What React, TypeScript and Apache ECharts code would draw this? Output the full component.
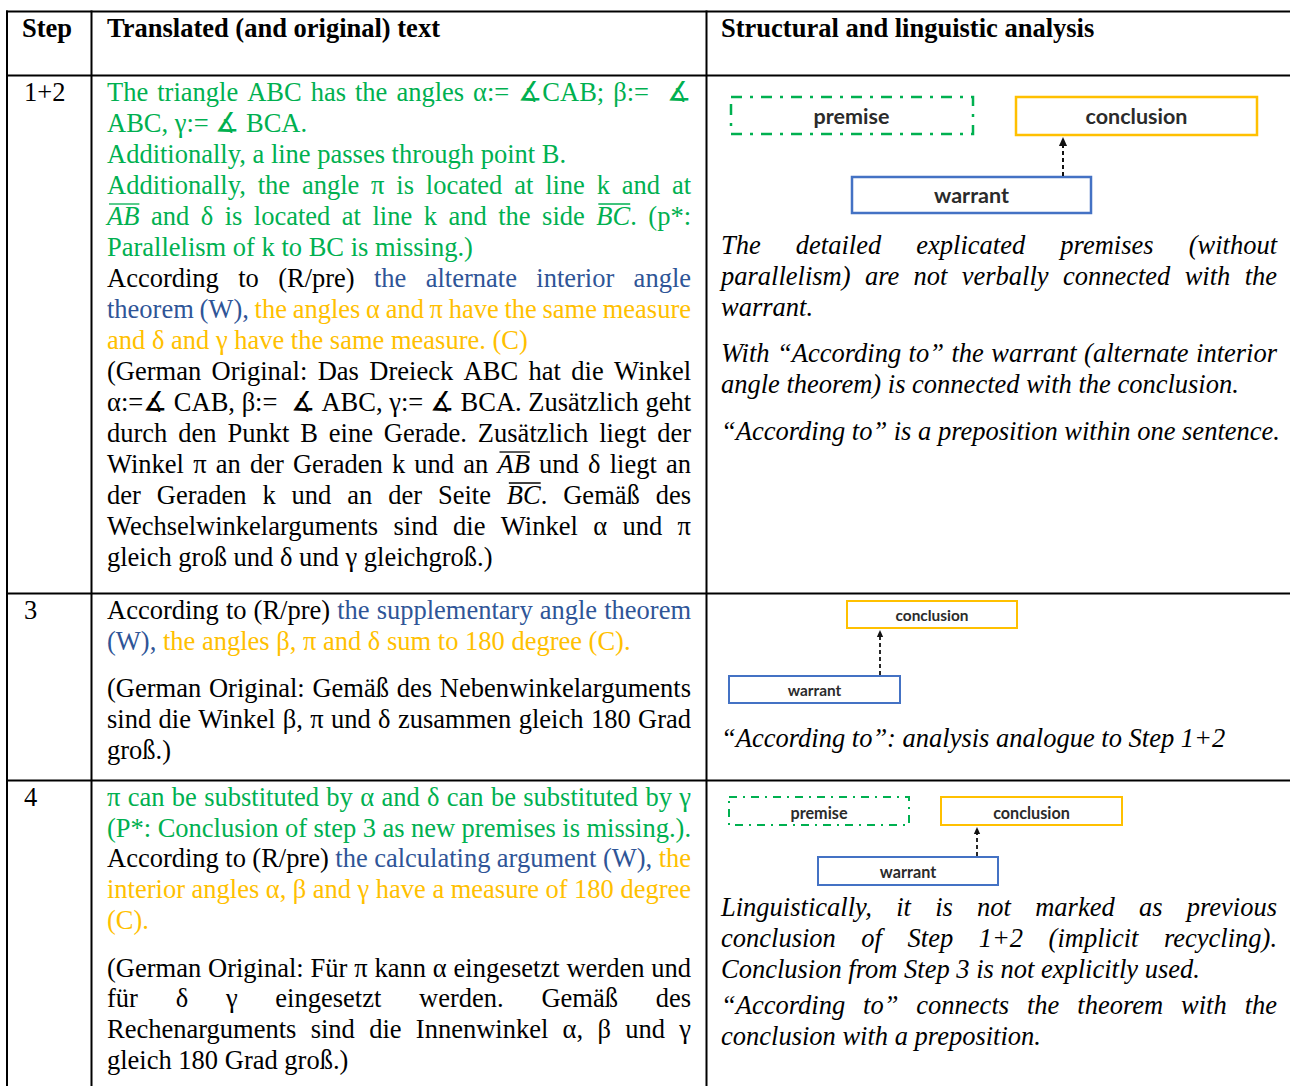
import React, { useEffect, useRef } from "react";
import * as echarts from "echarts";

type Seg = [string, string];
type Line = { j: boolean; s: Seg[] };
const L = (j: number, ...s: Seg[]): Line => ({ j: !!j, s });

// ---------- data ----------
const headers = ["Step", "Translated (and original) text", "Structural and linguistic analysis"];
const stepLabels = ["1+2", "3", "4"];

const step12Text: Line[][] = [
  [
    L(1, ["g", "The triangle ABC has the angles α:= ∡CAB; β:=  ∡"]),
    L(0, ["g", "ABC, γ:= ∡ BCA."]),
    L(0, ["g", "Additionally, a line passes through point B."]),
    L(1, ["g", "Additionally, the angle π is located at line k and at"]),
    L(1, ["go", "AB"], ["g", " and δ is located at line k and the side "], ["go", "BC"], ["g", ". (p*:"]),
    L(0, ["g", "Parallelism of k to BC is missing.)"]),
    L(1, ["k", "According to (R/pre) "], ["b", "the alternate interior angle"]),
    L(1, ["b", "theorem (W), "], ["y", "the angles α and π have the same measure"]),
    L(0, ["y", "and δ and γ have the same measure. (C)"]),
    L(1, ["k", "(German Original: Das Dreieck ABC hat die Winkel"]),
    L(1, ["k", "α:=∡ CAB, β:=  ∡ ABC, γ:= ∡ BCA. Zusätzlich geht"]),
    L(1, ["k", "durch den Punkt B eine Gerade. Zusätzlich liegt der"]),
    L(1, ["k", "Winkel π an der Geraden k und an "], ["ko", "AB"], ["k", " und δ liegt an"]),
    L(1, ["k", "der Geraden k und an der Seite "], ["ko", "BC"], ["k", ". Gemäß des"]),
    L(1, ["k", "Wechselwinkelarguments sind die Winkel α und π"]),
    L(0, ["k", "gleich groß und δ und γ gleichgroß.)"]),
  ],
];

const step3Text: Line[][] = [
  [
    L(1, ["k", "According to (R/pre) "], ["b", "the supplementary angle theorem"]),
    L(0, ["b", "(W), "], ["y", "the angles β, π and δ sum to 180 degree (C)."]),
  ],
  [
    L(1, ["k", "(German Original: Gemäß des Nebenwinkelarguments"]),
    L(1, ["k", "sind die Winkel β, π und δ zusammen gleich 180 Grad"]),
    L(0, ["k", "groß.)"]),
  ],
];

const step4Text: Line[][] = [
  [
    L(1, ["g", "π can be substituted by α and δ can be substituted by γ"]),
    L(1, ["g", "(P*: Conclusion of step 3 as new premises is missing.)."]),
    L(1, ["k", "According to (R/pre) "], ["b", "the calculating argument (W), "], ["y", "the"]),
    L(1, ["y", "interior angles α, β and γ have a measure of 180 degree"]),
    L(0, ["y", "(C)."]),
  ],
  [
    L(1, ["k", "(German Original: Für π kann α eingesetzt werden und"]),
    L(1, ["k", "für δ γ eingesetzt werden. Gemäß des"]),
    L(1, ["k", "Rechenarguments sind die Innenwinkel α, β und γ"]),
    L(0, ["k", "gleich 180 Grad groß.)"]),
  ],
];

const step12Analysis: Line[][] = [
  [
    L(1, ["ki", "The detailed explicated premises (without"]),
    L(1, ["ki", "parallelism) are not verbally connected with the"]),
    L(0, ["ki", "warrant."]),
  ],
  [
    L(1, ["ki", "With “According to” the warrant (alternate interior"]),
    L(0, ["ki", "angle theorem) is connected with the conclusion."]),
  ],
  [L(0, ["ki", "“According to” is a preposition within one sentence."])],
];

const step3Analysis: Line[][] = [[L(0, ["ki", "“According to”: analysis analogue to Step 1+2"])]];

const step4Analysis: Line[][] = [
  [
    L(1, ["ki", "Linguistically, it is not marked as previous"]),
    L(1, ["ki", "conclusion of Step 1+2 (implicit recycling)."]),
    L(0, ["ki", "Conclusion from Step 3 is not explicitly used."]),
  ],
  [
    L(1, ["ki", "“According to” connects the theorem with the"]),
    L(0, ["ki", "conclusion with a preposition."]),
  ],
];

const boxLabels = { premise: "premise", conclusion: "conclusion", warrant: "warrant" };

// ---------- styling ----------
const COLOR: Record<string, string> = { k: "#000000", g: "#00B050", b: "#2F5597", y: "#FFC000" };
const SERIF = '"Liberation Serif", "Times New Roman", "DejaVu Serif", serif';
const SANS = 'Lato, "Open Sans", sans-serif';
const FS = 26.5;

let ctx: CanvasRenderingContext2D | null = null;
function measure(text: string, style: string, weight: string, size: number, family: string) {
  if (!ctx) ctx = document.createElement("canvas").getContext("2d");
  ctx!.font = `${style} ${weight} ${size}px ${family}`;
  return ctx!.measureText(text).width;
}

function layoutLine(line: Line, x0: number, x1: number, y: number, els: any[]) {
  type Piece = { t: string; key: string };
  const words: { pieces: Piece[]; before: number }[] = [];
  let cur: { pieces: Piece[]; before: number } | null = null;
  let pending = 0;
  for (const [key, text] of line.s) {
    for (const part of text.split(/( +)/)) {
      if (!part) continue;
      if (part.trim() === "") {
        if (cur) { words.push(cur); cur = null; }
        pending += part.length;
      } else {
        if (!cur) { cur = { pieces: [], before: words.length ? pending : 0 }; pending = 0; }
        cur.pieces.push({ t: part, key });
      }
    }
  }
  if (cur) words.push(cur);
  const isItalic = (k: string) => k.includes("i") || k.includes("o");
  const baseItalic = line.s.every(([k]) => isItalic(k));
  const spaceW = measure(" ", baseItalic ? "italic" : "normal", "normal", FS, SERIF);
  let natural = 0;
  let spaces = 0;
  const widths = words.map((w) => {
    spaces += w.before;
    return w.pieces.map((p) => {
      const wd = measure(p.t, isItalic(p.key) ? "italic" : "normal", "normal", FS, SERIF);
      natural += wd;
      return wd;
    });
  });
  natural += spaces * spaceW;
  const gapW = line.j && spaces > 0 ? (x1 - x0 - natural) / spaces + spaceW : spaceW;
  let x = x0;
  words.forEach((w, wi) => {
    x += w.before * gapW;
    w.pieces.forEach((p, pi) => {
      const wd = widths[wi][pi];
      const fill = COLOR[p.key[0]];
      els.push({
        type: "text",
        x,
        y,
        silent: true,
        style: {
          text: p.t,
          fill,
          fontFamily: SERIF,
          fontSize: FS,
          fontStyle: isItalic(p.key) ? "italic" : "normal",
          textAlign: "left",
          textVerticalAlign: "middle",
        },
      });
      if (p.key.includes("o")) {
        els.push({
          type: "line",
          silent: true,
          shape: { x1: x + 2, y1: y - 11.5, x2: x + wd, y2: y - 11.5 },
          style: { stroke: fill, lineWidth: 1.3 },
        });
      }
      x += wd;
    });
  });
}

function layoutCell(paras: Line[][], x0: number, x1: number, starts: number[], lh: number, els: any[]) {
  paras.forEach((para, pi) => {
    para.forEach((line, li) => layoutLine(line, x0, x1, starts[pi] + li * lh, els));
  });
}

function box(x: number, y: number, w: number, h: number, color: string, lw: number, dash?: number[]) {
  return {
    type: "rect",
    silent: true,
    shape: { x, y, width: w, height: h },
    style: { fill: "#ffffff", stroke: color, lineWidth: lw, lineDash: dash || null },
  };
}
function label(text: string, cx: number, cy: number, size: number) {
  return {
    type: "text",
    x: cx,
    y: cy,
    silent: true,
    style: {
      text,
      fill: "#2b2b2b",
      fontFamily: SANS,
      fontWeight: "bold",
      fontSize: size,
      textAlign: "center",
      textVerticalAlign: "middle",
    },
  };
}
function arrow(x: number, yFrom: number, yTip: number, head: number, lw: number) {
  return [
    {
      type: "line",
      silent: true,
      shape: { x1: x, y1: yFrom, x2: x, y2: yTip + head },
      style: { stroke: "#111", lineWidth: lw, lineDash: [4, 3] },
    },
    {
      type: "polygon",
      silent: true,
      shape: { points: [[x, yTip], [x - head * 0.45, yTip + head], [x + head * 0.45, yTip + head]] },
      style: { fill: "#111" },
    },
  ];
}

function buildElements() {
  const els: any[] = [];
  const GREEN = "#00B050", YELLOW = "#FFC000", BLUE = "#4472C4";

  // table rules
  const h = (x1: number, x2: number, y: number, lw = 2) =>
    els.push({ type: "line", silent: true, shape: { x1, y1: y, x2, y2: y }, style: { stroke: "#000", lineWidth: lw } });
  const v = (x: number, y1: number, y2: number, lw = 2) =>
    els.push({ type: "line", silent: true, shape: { x1: x, y1, x2: x, y2 }, style: { stroke: "#000", lineWidth: lw } });
  h(6, 1290, 11.5);
  h(6, 1290, 75.5);
  h(6, 1290, 593.5);
  h(6, 1290, 780.5);
  v(7, 10.5, 1086);
  v(91.5, 10.5, 1086);
  v(706.5, 10.5, 1086);

  // diagrams
  els.push(box(731, 97, 242, 37, GREEN, 2.5, [11, 8, 3, 8]));
  els.push(box(1016, 97, 241, 38, YELLOW, 2.5));
  els.push(box(852, 177, 239, 36, BLUE, 2.5));
  els.push(...arrow(1063, 176, 137, 9, 2));
  els.push(label(boxLabels.premise, 851.5, 116, 21.5));
  els.push(label(boxLabels.conclusion, 1136.5, 116, 21.5));
  els.push(label(boxLabels.warrant, 971.5, 195, 21.5));

  els.push(box(847, 601, 170, 27, YELLOW, 2));
  els.push(box(729, 676, 171, 27, BLUE, 2));
  els.push(...arrow(880, 675, 630, 7, 1.8));
  els.push(label(boxLabels.conclusion, 932, 615, 15.4));
  els.push(label(boxLabels.warrant, 814.5, 689.5, 15.4));

  els.push(box(729, 797, 180, 28, GREEN, 2, [8, 6, 2, 6]));
  els.push(box(941, 797, 181, 28, YELLOW, 2));
  els.push(box(818, 857, 180, 28, BLUE, 2));
  els.push(...arrow(977, 856, 827, 7, 1.8));
  els.push(label(boxLabels.premise, 819, 812, 16.2));
  els.push(label(boxLabels.conclusion, 1031.5, 812, 16.2));
  els.push(label(boxLabels.warrant, 908, 871, 16.2));

  // headers
  const hx = [22, 107, 721];
  headers.forEach((t, i) =>
    els.push({
      type: "text",
      x: hx[i],
      y: 27.5,
      silent: true,
      style: { text: t, fill: "#000", fontFamily: SERIF, fontSize: FS, fontWeight: "bold", textAlign: "left", textVerticalAlign: "middle" },
    })
  );
  const sy = [91.5, 610, 797];
  stepLabels.forEach((t, i) =>
    els.push({
      type: "text",
      x: 24,
      y: sy[i],
      silent: true,
      style: { text: t, fill: "#000", fontFamily: SERIF, fontSize: FS, textAlign: "left", textVerticalAlign: "middle" },
    })
  );

  // text cells
  layoutCell(step12Text, 107, 691, [91.5], 31, els);
  layoutCell(step3Text, 107, 691, [610, 687.5], 31, els);
  layoutCell(step4Text, 107, 691, [797, 967.5], 30.7, els);
  layoutCell(step12Analysis, 721, 1277, [245, 352.5, 430.5], 31, els);
  layoutCell(step3Analysis, 721, 1277, [738], 31, els);
  layoutCell(step4Analysis, 721, 1277, [907, 1005], 31, els);
  return els;
}

export default function App() {
  const ref = useRef<HTMLDivElement>(null);
  useEffect(() => {
    if (!ref.current) return;
    const chart = echarts.init(ref.current, null, { renderer: "svg" });
    chart.setOption({
      animation: false,
      backgroundColor: "#ffffff",
      graphic: { elements: buildElements() },
    });
    return () => chart.dispose();
  }, []);
  return <div ref={ref} style={{ position: "fixed", left: 0, top: 0, width: 1290, height: 1086 }} />;
}
